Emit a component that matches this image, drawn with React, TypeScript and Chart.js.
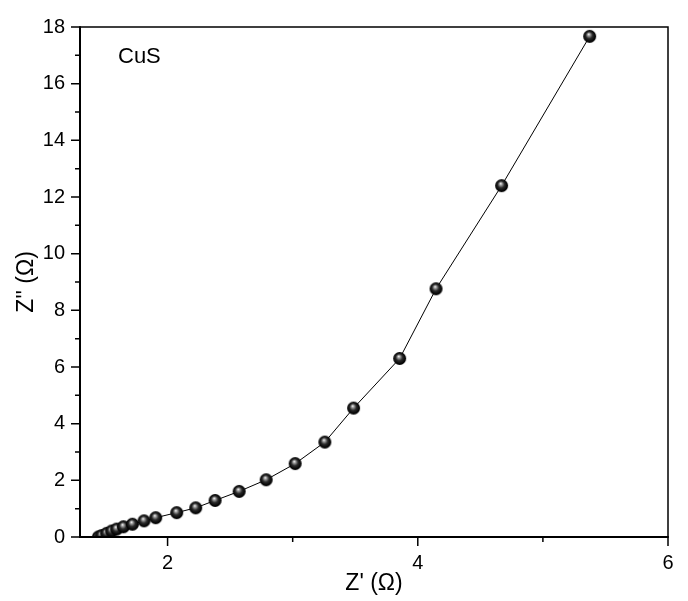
import React, { useEffect, useRef } from "react";
import { Chart, registerables } from "chart.js";

Chart.register(...registerables);

// Nyquist data for CuS (Z' in Ω, Z'' in Ω)
const zReal: number[] = [1.447, 1.473, 1.513, 1.553, 1.593, 1.647, 1.719, 1.812, 1.905, 2.073, 2.225, 2.38, 2.572, 2.788, 3.02, 3.257, 3.487, 3.855, 4.146, 4.67, 5.374];
const zImag: number[] = [0.0, 0.05, 0.13, 0.21, 0.28, 0.36, 0.45, 0.57, 0.68, 0.86, 1.03, 1.29, 1.61, 2.02, 2.59, 3.35, 4.55, 6.3, 8.76, 12.4, 17.67];

const xMajorTicks: number[] = [2, 4, 6];
const xMinorTicks: number[] = [3, 5];
const yMajorTicks: number[] = [0, 2, 4, 6, 8, 10, 12, 14, 16, 18];
const yMinorTicks: number[] = [1, 3, 5, 7, 9, 11, 13, 15, 17];

const sampleLabel = "CuS";
const xTitle = "Z' (Ω)";
const yTitle = "Z'' (Ω)";

const FONT = "'Liberation Sans', Arial, Helvetica, sans-serif";

function makeSphere(r: number): HTMLCanvasElement {
  const size = Math.ceil(r * 2) + 2;
  const c = document.createElement("canvas");
  c.width = size;
  c.height = size;
  const ctx = c.getContext("2d")!;
  const cx = size / 2;
  const cy = size / 2;
  const g = ctx.createRadialGradient(cx - 1, cy - 2.2, 0.2, cx, cy, r);
  g.addColorStop(0, "#f4f4f4");
  g.addColorStop(0.2, "#9a9a9a");
  g.addColorStop(0.5, "#2a2a2a");
  g.addColorStop(0.85, "#050505");
  g.addColorStop(1, "#000");
  ctx.fillStyle = g;
  ctx.beginPath();
  ctx.arc(cx, cy, r, 0, Math.PI * 2);
  ctx.fill();
  return c;
}

const framePlugin = {
  id: "frame",
  afterDraw(chart: any) {
    const { ctx, chartArea } = chart;
    const { left, right, top, bottom } = chartArea;
    const xs = chart.scales.x;
    const ys = chart.scales.y;
    ctx.save();
    ctx.strokeStyle = "#000";
    // top & right
    ctx.lineWidth = 1.5;
    ctx.beginPath();
    ctx.moveTo(left, top);
    ctx.lineTo(right, top);
    ctx.lineTo(right, bottom);
    ctx.stroke();
    // left & bottom
    ctx.lineWidth = 2;
    ctx.beginPath();
    ctx.moveTo(left, top - 0.75);
    ctx.lineTo(left, bottom);
    ctx.lineTo(right + 0.75, bottom);
    ctx.stroke();
    // ticks
    ctx.lineWidth = 1.5;
    ctx.beginPath();
    yMajorTicks.forEach((v) => {
      const p = ys.getPixelForValue(v);
      ctx.moveTo(left - 9, p);
      ctx.lineTo(left, p);
    });
    yMinorTicks.forEach((v) => {
      const p = ys.getPixelForValue(v);
      ctx.moveTo(left - 5, p);
      ctx.lineTo(left, p);
    });
    xMajorTicks.forEach((v) => {
      const p = xs.getPixelForValue(v);
      ctx.moveTo(p, bottom);
      ctx.lineTo(p, bottom + 9);
    });
    xMinorTicks.forEach((v) => {
      const p = xs.getPixelForValue(v);
      ctx.moveTo(p, bottom);
      ctx.lineTo(p, bottom + 5);
    });
    ctx.stroke();
    // sample label
    ctx.fillStyle = "#000";
    ctx.font = `22px ${FONT}`;
    ctx.textAlign = "left";
    ctx.textBaseline = "alphabetic";
    ctx.fillText(sampleLabel, left + 38, top + 36);
    ctx.restore();
  },
};

export default function App() {
  const ref = useRef<HTMLCanvasElement | null>(null);

  useEffect(() => {
    document.body.style.margin = "0";
    const canvas = ref.current;
    if (!canvas) return;
    const sphere = makeSphere(6.5);
    const data = zReal.map((x, i) => ({ x, y: zImag[i] }));
    const chart = new Chart(canvas, {
      type: "line",
      data: {
        datasets: [
          {
            data,
            borderColor: "#000",
            borderWidth: 1,
            tension: 0,
            pointStyle: sphere as any,
            pointRadius: 6.5,
            pointHoverRadius: 6.5,
            fill: false,
          },
        ],
      },
      options: {
        responsive: false,
        animation: false,
        events: [],
        layout: { padding: { left: 0, top: 19, right: 20, bottom: 0 } },
        plugins: { legend: { display: false }, tooltip: { enabled: false } },
        scales: {
          x: {
            type: "linear",
            min: 1.3,
            max: 6,
            afterBuildTicks: (s: any) => {
              s.ticks = xMajorTicks.map((v) => ({ value: v }));
            },
            afterFit: (s: any) => {
              s.height = 64;
            },
            grid: { display: false, drawTicks: false },
            border: { display: false },
            ticks: {
              color: "#000",
              font: { family: FONT, size: 20 },
              padding: 14,
              maxRotation: 0,
              autoSkip: false,
              callback: (v: any) => String(v),
            },
            title: {
              display: true,
              text: xTitle,
              color: "#000",
              font: { family: FONT, size: 23 },
              padding: { top: 0, bottom: 4 },
            },
          },
          y: {
            type: "linear",
            min: 0,
            max: 18,
            afterBuildTicks: (s: any) => {
              s.ticks = yMajorTicks.map((v) => ({ value: v }));
            },
            afterFit: (s: any) => {
              s.width = 80;
            },
            grid: { display: false, drawTicks: false },
            border: { display: false },
            ticks: {
              color: "#000",
              font: { family: FONT, size: 20 },
              padding: 15,
              autoSkip: false,
              callback: (v: any) => String(v),
            },
            title: {
              display: true,
              text: yTitle,
              color: "#000",
              font: { family: FONT, size: 23 },
              padding: { top: 13, bottom: 0 },
            },
          },
        },
      },
      plugins: [framePlugin],
    });
    return () => chart.destroy();
  }, []);

  return (
    <div style={{ width: 688, height: 601 }}>
      <canvas ref={ref} width={688} height={601} style={{ display: "block" }} />
    </div>
  );
}
